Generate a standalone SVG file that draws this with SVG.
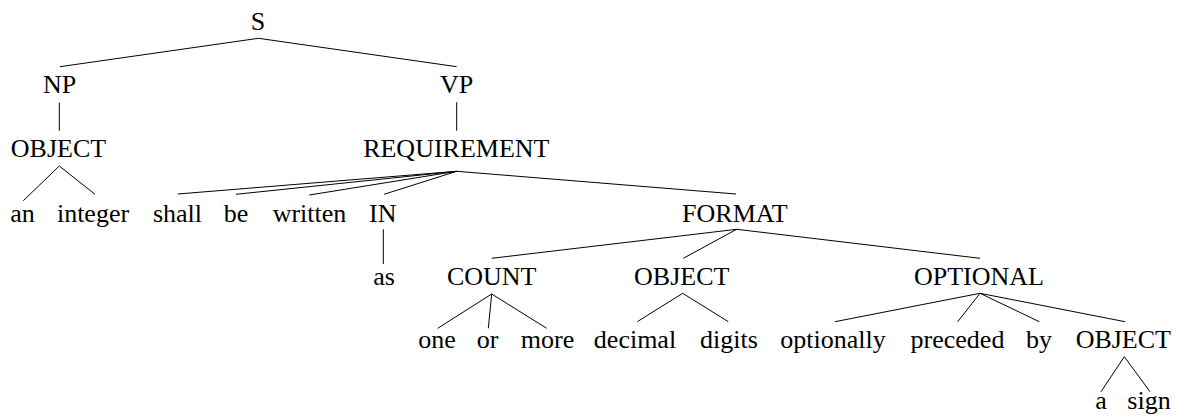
<svg xmlns="http://www.w3.org/2000/svg" width="1177" height="416" viewBox="0 0 1177 416">
  <style>
    text { font-family: "Liberation Serif", "Times New Roman", Times, "DejaVu Serif", "Noto Serif", FreeSerif, serif; font-size: 26px; fill: #000; text-anchor: middle; }
    .edge { stroke: #000; stroke-width: 1; fill: none; }
  </style>
  <rect width="1177" height="416" fill="#fff"/>

  <!-- tree edges -->
  <g id="connectors" class="edge">
    <path d="M258.5,38.3 L60,66.7 M258.5,38.3 L456.7,66.7"/>
    <path d="M59.3,102.7 L59.3,130.7"/>
    <path d="M456.7,102.3 L456.7,130.7"/>
    <path d="M59.3,166 L23.3,200.7 M59.3,166 L95,194.3"/>
    <path d="M456.7,171.3 L177.7,194 M456.7,171.3 L236,194.3 M456.7,171.3 L309.3,195 M456.7,171.3 L384,194.3 M456.7,171.3 L736,194"/>
    <path d="M383.3,229.3 L383.3,264"/>
    <path d="M736.7,229.3 L491.7,258.3 M736.7,229.3 L683.3,258.3 M736.7,229.3 L980,258.3"/>
    <path d="M491.7,294 L437.7,328.3 M491.7,294 L488.3,328.3 M491.7,294 L546.7,328.3"/>
    <path d="M682.7,293.3 L637.3,321.7 M682.7,293.3 L728.3,321.7"/>
    <path d="M980,293.3 L835,321.7 M980,293.3 L957.7,321.7 M980,293.3 L1039.3,321.7 M980,293.3 L1125,321.7"/>
    <path d="M1124.3,356.7 L1101,391.7 M1124.3,356.7 L1150,391.7"/>
  </g>

  <!-- level 0 -->
  <g id="n-S"><text x="258" y="29.5" font-family="Liberation Serif, serif">S</text></g>
  <!-- level 1 -->
  <g id="n-NP"><text x="59.5" y="93.3">NP</text></g>
  <g id="n-VP"><text x="456.7" y="93.3">VP</text></g>
  <!-- level 2 -->
  <g id="n-OBJECT-1"><text x="58.5" y="157.3">OBJECT</text></g>
  <g id="n-REQUIREMENT"><text x="456.3" y="157.3">REQUIREMENT</text></g>
  <!-- level 3 -->
  <g id="n-an"><text x="22.5" y="222">an</text></g>
  <g id="n-integer"><text x="93" y="222">integer</text></g>
  <g id="n-shall"><text x="177.5" y="222">shall</text></g>
  <g id="n-be"><text x="236" y="222">be</text></g>
  <g id="n-written"><text x="309.5" y="222">written</text></g>
  <g id="n-IN"><text x="382.8" y="222">IN</text></g>
  <g id="n-FORMAT"><text x="734.8" y="222">FORMAT</text></g>
  <!-- level 4 -->
  <g id="n-as"><text x="384" y="285">as</text></g>
  <g id="n-COUNT"><text x="491.7" y="285">COUNT</text></g>
  <g id="n-OBJECT-2"><text x="681.7" y="285">OBJECT</text></g>
  <g id="n-OPTIONAL"><text x="979" y="285">OPTIONAL</text></g>
  <!-- level 5 -->
  <g id="n-one"><text x="437" y="348">one</text></g>
  <g id="n-or"><text x="487.5" y="348">or</text></g>
  <g id="n-more"><text x="547.5" y="348">more</text></g>
  <g id="n-decimal"><text x="635" y="348">decimal</text></g>
  <g id="n-digits"><text x="729" y="348">digits</text></g>
  <g id="n-optionally"><text x="833" y="348">optionally</text></g>
  <g id="n-preceded"><text x="957.5" y="348">preceded</text></g>
  <g id="n-by"><text x="1039" y="348">by</text></g>
  <g id="n-OBJECT-3"><text x="1123.3" y="348">OBJECT</text></g>
  <!-- level 6 -->
  <g id="n-a"><text x="1101" y="409">a</text></g>
  <g id="n-sign"><text x="1149" y="409">sign</text></g>
</svg>
